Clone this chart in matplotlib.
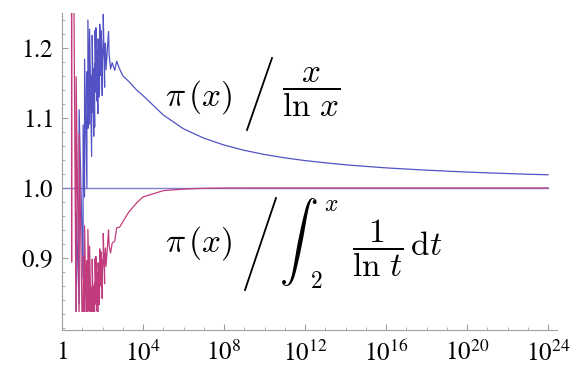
import matplotlib
matplotlib.use('Agg')
import matplotlib.pyplot as plt
import numpy as np
from matplotlib.patches import Rectangle
from matplotlib.lines import Line2D
from matplotlib.ticker import NullFormatter

plt.rcParams['mathtext.fontset'] = 'stix'
plt.rcParams['font.family'] = ['STIXGeneral', 'DejaVu Serif']

# small x: values just before and at each prime (sawtooth of pi(x))
x_small = [2.05, 2.99, 3, 4.99, 5, 6.99, 7, 10.99, 11, 12.99, 13, 16.99, 17,
           18.99, 19, 22.99, 23, 28.99, 29, 30.99, 31, 36.99, 37, 40.99, 41,
           42.99, 43, 46.99, 47, 52.99, 53, 58.99, 59, 60.99, 61, 66.99, 67,
           70.99, 71, 72.99, 73, 78.99, 79, 82.99, 83, 88.99, 89, 96.99, 97]
blue_small = [0.35, 0.366, 0.732, 0.644, 0.966, 0.834, 1.112, 0.872, 1.090,
              0.987, 1.184, 1.000, 1.166, 1.085, 1.240, 1.091, 1.227, 1.045,
              1.161, 1.108, 1.218, 1.074, 1.171, 1.087, 1.178, 1.137, 1.225,
              1.147, 1.229, 1.124, 1.198, 1.106, 1.175, 1.146, 1.213, 1.130,
              1.192, 1.141, 1.201, 1.175, 1.234, 1.161, 1.217, 1.171, 1.225,
              1.160, 1.211, 1.132, 1.179]
red_small = [14.0, 0.894, 1.789, 0.772, 1.159, 0.808, 1.078, 0.722, 0.903,
             0.789, 0.946, 0.768, 0.896, 0.824, 0.941, 0.815, 0.917, 0.772,
             0.858, 0.816, 0.898, 0.788, 0.860, 0.797, 0.864, 0.834, 0.899,
             0.842, 0.902, 0.824, 0.879, 0.814, 0.865, 0.844, 0.893, 0.833,
             0.880, 0.843, 0.887, 0.870, 0.913, 0.860, 0.902, 0.870, 0.909,
             0.860, 0.899, 0.842, 0.877]

# middle range
x_mid = [101, 108.99, 109, 126.99, 127, 139, 150, 181, 199, 211, 250, 300,
         400, 500, 700, 1000, 2000, 5000]
blue_mid = [1.188, 1.205, 1.248, 1.144, 1.182, 1.207, 1.169, 1.206, 1.2235,
            1.192, 1.170, 1.179, 1.168, 1.181, 1.170, 1.1605, 1.152, 1.1396]
red_mid = [0.887, 0.903, 0.935, 0.863, 0.892, 0.914, 0.888, 0.923, 0.940,
           0.918, 0.907, 0.921, 0.924, 0.943, 0.944, 0.9515, 0.9656, 0.979]

# powers of ten 10^4 ... 10^24
dec_exp = list(range(4, 25))
blue_dec = [1.1320, 1.1043, 1.0845, 1.0712, 1.0613, 1.0537, 1.0478, 1.0430,
            1.0391, 1.0359, 1.0331, 1.0308, 1.0287, 1.0270, 1.0254, 1.0240,
            1.0227, 1.0216, 1.0206, 1.0196, 1.0188]
red_dec = [0.9871, 0.9961, 0.99837, 0.99949, 0.99987, 0.99996, 0.99998,
           0.99999, 1.0, 1.0, 1.0, 1.0, 1.0, 1.0, 1.0, 1.0, 1.0, 1.0, 1.0,
           1.0, 1.0]

x_ticks = [0, 4, 8, 12, 16, 20, 24]
y_ticks = [0.9, 1.0, 1.1, 1.2]

x_all = np.array(x_small + x_mid + [10.0 ** e for e in dec_exp])
blue_all = np.array(blue_small + blue_mid + blue_dec)
red_all = np.array(red_small + red_mid + red_dec)

W, H = 574, 365
fig = plt.figure(figsize=(W / 100, H / 100), dpi=100)
ax = fig.add_axes([62 / W, 35 / H, 495 / W, 317 / H])
ax.set_xscale('log')
ax.set_xlim(1, 10 ** 24.44)
ax.set_ylim(0.797, 1.25)

clip = Rectangle((1, 0.823), 1e30, 1.25 - 0.823, transform=ax.transData,
                 facecolor='none', edgecolor='none')
ax.add_patch(clip)

l0, = ax.plot([1, 1e24], [1.0, 1.0], color='#8080d0', lw=1.0)
l1, = ax.plot(x_all, blue_all, color='#5252c4', lw=0.9)
l2, = ax.plot(x_all, red_all, color='#c03c7c', lw=0.9)
for ln in (l0, l1, l2):
    ln.set_clip_path(clip)

for s in ['top', 'right']:
    ax.spines[s].set_visible(False)
for s in ['left', 'bottom']:
    ax.spines[s].set_color('#a0a0a0')
    ax.spines[s].set_linewidth(0.8)

ax.set_xticks([10.0 ** e for e in x_ticks])
ax.set_xticklabels(['$1$'] + ['$10^{%d}$' % e for e in x_ticks[1:]])
ax.set_xticks([10.0 ** e for e in range(0, 25)], minor=True)
ax.xaxis.set_minor_formatter(NullFormatter())
ax.set_yticks(y_ticks)
ax.set_yticklabels(['$%.1f$' % v for v in y_ticks])
ax.set_yticks(np.arange(0.80, 1.25, 0.02), minor=True)
ax.yaxis.set_minor_formatter(NullFormatter())
ax.tick_params(which='both', direction='in', color='#a0a0a0', labelsize=18)
ax.tick_params(which='major', length=4, width=0.8)
ax.tick_params(which='minor', length=2, width=0.6)
ax.tick_params(axis='x', pad=8)
ax.tick_params(axis='y', pad=6)


def put(px, py, s, size, ha='left'):
    fig.text(px / W, 1 - py / H, s, fontsize=size, ha=ha, va='center',
             math_fontfamily='cm')


def slash(x0, y0, x1, y1):
    fig.add_artist(Line2D([x0 / W, x1 / W], [1 - y0 / H, 1 - y1 / H],
                          transform=fig.transFigure, color='black', lw=1.3))


# label of the upper curve
put(165, 97, r'$\pi\,(x)$', 24)
slash(247, 130, 272, 58)
put(311, 92, r'$\dfrac{x}{\ln\,x}$', 24, ha='center')

# label of the lower curve
put(165, 243, r'$\pi\,(x)$', 24)
slash(245, 290, 276, 198)
put(298, 242, r'$\int$', 28, ha='center')
put(316, 282, r'$2$', 17, ha='center')
put(331, 205, r'$x$', 17, ha='center')
put(352, 248, r'$\dfrac{1}{\ln\,t}\,\mathrm{d}t$', 24)

fig.savefig('out.png', dpi=100)
